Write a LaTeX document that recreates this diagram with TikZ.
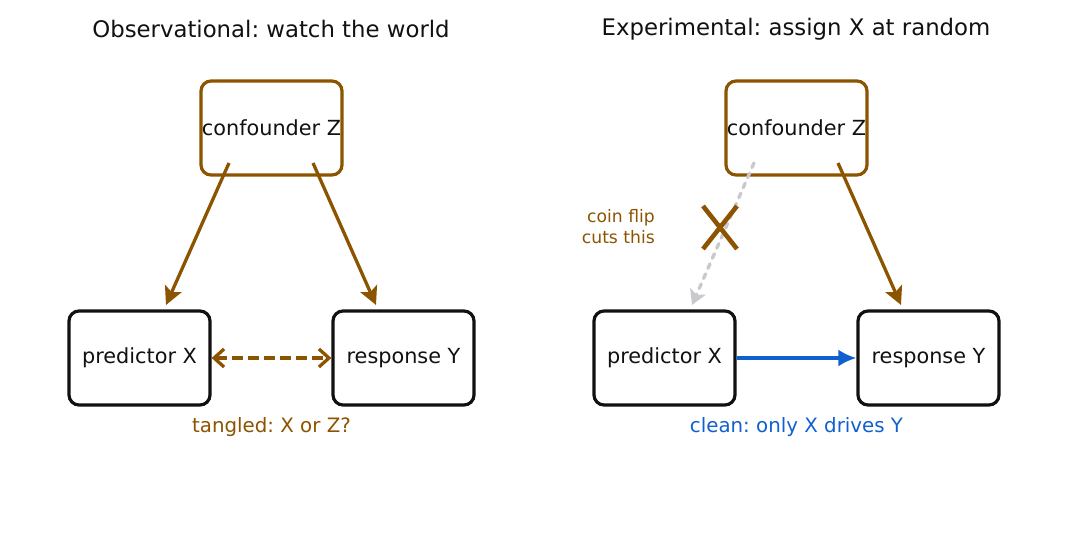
\documentclass[tikz,border=0pt]{standalone}
\usepackage{fontspec}
\setmainfont{DejaVu Sans}
\frenchspacing
\usetikzlibrary{arrows.meta}
\definecolor{brn}{RGB}{140,84,0}
\definecolor{blu}{RGB}{16,96,208}
\definecolor{gry}{RGB}{200,200,206}
\definecolor{ink}{RGB}{17,17,17}
\begin{document}
\begin{tikzpicture}[x=1pt,y=-1pt,
  box/.style={draw=ink, line width=3.2pt, rounded corners=10pt, minimum width=141pt, minimum height=94pt, inner sep=0pt, text=ink, font=\fontsize{20.8}{24}\selectfont},
  cbox/.style={box, draw=brn},
  title/.style={text=ink, font=\fontsize{22.8}{26}\selectfont},
  note/.style={font=\fontsize{19.8}{24}\selectfont},
  barrow/.style={draw=brn, line width=3.3pt, -{Stealth[length=18pt,width=18pt,inset=4pt]}},
]
\useasboundingbox (0,0) rectangle (1068,543);
% left panel
\node[title] (t1) at (271,29) {Observational: watch the world};
\node[cbox] (cL) at (271.5,128) {confounder Z};
\node[box] (pL) at (139.5,358) {predictor X};
\node[box] (rL) at (403.5,358) {response Y};
\coordinate (cL1) at (229,163);
\coordinate (cL2) at (313,163);
\coordinate (pLt) at (166,305);
\coordinate (rLt) at (376,305);
\draw[barrow] (cL1) -- (pLt);
\draw[barrow] (cL2) -- (rLt);
\draw[draw=brn, line width=3.3pt, dash pattern=on 11pt off 5pt, {Straight Barb[length=10pt,width=18pt,line width=3.3pt]}-{Straight Barb[length=10pt,width=18pt,line width=3.3pt]}] (pL.east) -- (rL.west);
\node[note, text=brn] (nL) at (271.5,427) {tangled: X or Z?};
% right panel
\node[title] (t2) at (796,29) {Experimental: assign X at random};
\node[cbox] (cR) at (796.5,128) {confounder Z};
\node[box] (pR) at (664.5,358) {predictor X};
\node[box] (rR) at (928.5,358) {response Y};
\coordinate (cR1) at (754,163);
\coordinate (cR2) at (838,163);
\coordinate (pRt) at (692,305);
\coordinate (rRt) at (901,305);
\draw[draw=gry, line width=3.3pt, dash pattern=on 5pt off 6pt, line cap=round, -{Stealth[length=15pt,width=17pt,inset=4pt]}] (cR1) -- (pRt);
\draw[barrow] (cR2) -- (rRt);
\draw[draw=blu, line width=3.3pt, -{Latex[length=18pt,width=17pt]}] (pR.east) -- (rR.west);
\coordinate (xa) at (703,206);
\coordinate (xb) at (737,249);
\coordinate (xc) at (737,206);
\coordinate (xd) at (703,249);
\draw[brn, line width=4.6pt] (xa) -- (xb);
\draw[brn, line width=4.6pt] (xc) -- (xd);
\node[font=\fontsize{17.2}{21}\selectfont, text=brn, align=right, anchor=east, inner sep=0pt] (coin) at (655,227) {coin flip\\cuts this};
\node[note, text=blu] (nR) at (796.5,427) {clean: only X drives Y};
\end{tikzpicture}
\end{document}
